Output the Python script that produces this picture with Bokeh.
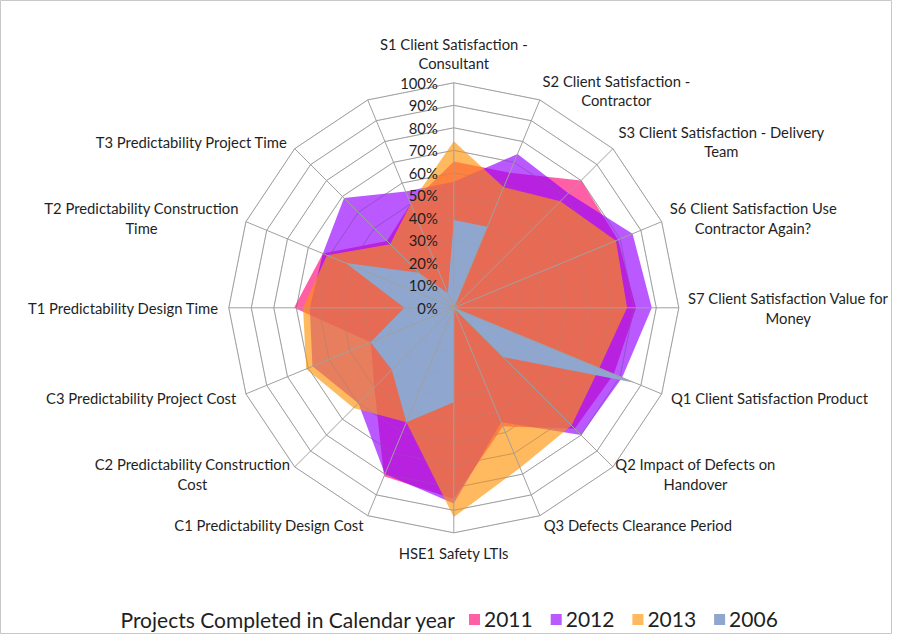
import math
from bokeh.plotting import figure
from bokeh.models import Range1d
from bokeh.embed import file_html
from bokeh.resources import INLINE
from bokeh.core.properties import value

# ---------------- data ----------------
categories = [
    "S1 Client Satisfaction -\nConsultant",
    "S2 Client Satisfaction -\nContractor",
    "S3 Client Satisfaction - Delivery\nTeam",
    "S6 Client Satisfaction Use\nContractor Again?",
    "S7 Client Satisfaction Value for\nMoney",
    "Q1 Client Satisfaction Product",
    "Q2 Impact of Defects on\nHandover",
    "Q3 Defects Clearance Period",
    "HSE1 Safety LTIs",
    "C1 Predictability Design Cost",
    "C2 Predictability Construction\nCost",
    "C3 Predictability Project Cost",
    "T1 Predictability Design Time",
    "T2 Predictability Construction\nTime",
    "T3 Predictability Project Time",
    "",
]
years = ["2011", "2012", "2013", "2006"]
v2011 = [65, 65, 80, 79, 81, 77, 76, 57, 85, 81, 50, 40, 71, 63, 42, 50]
v2012 = [56, 74, 72, 86, 88, 81, 80, 55, 87, 80, 60, 68, 64, 63, 69, 56]
v2013 = [74, 58, 67, 78, 77, 70, 74, 77, 93, 55, 63, 71, 67, 61, 40, 50]
v2006 = [39, 39, 0, 0, 0, 87, 31, 0, 42, 55, 39, 40, 22, 52, 22, 7]
tick_values = [0, 10, 20, 30, 40, 50, 60, 70, 80, 90, 100]
tick_labels = ["0%", "10%", "20%", "30%", "40%", "50%", "60%", "70%", "80%", "90%", "100%"]
legend_title = "Projects Completed in Calendar year"

# ---------------- styles ----------------
series_values = [v2011, v2012, v2013, v2006]
base_colors = ["#FF0975", "#9300FF", "#FF9309", "#8FA6CF"]
alphas = [0.65, 0.65, 0.65, 1.0]
grid_color = "#A0A0A0"
text_color = "#1F1F1F"
FONT = "Lato"
LABEL_FS = 14.8

W, H = 892, 634
CX, CY = 453.3, 307.3          # chart centre inside the canvas (from left / top)
R = 225.0                      # radius of 100 %
VMAX = 100.0

p = figure(width=W, height=H, output_backend="svg", toolbar_location=None,
           x_range=Range1d(-CX, W - CX), y_range=Range1d(CY - H, CY),
           min_border=0, background_fill_color="white", border_fill_color="white")
p.axis.visible = False
p.xgrid.visible = False
p.ygrid.visible = False
p.outline_line_color = "#C8C8C8"

n = len(categories)
angles = [2 * math.pi * k / n for k in range(n)]


def pt(v, a):
    r = v / VMAX * R
    return r * math.sin(a), r * math.cos(a)


# rings (underneath)
ring_xs, ring_ys = [], []
for tv in tick_values[1:]:
    xs = [pt(tv, a)[0] for a in angles] + [pt(tv, angles[0])[0]]
    ys = [pt(tv, a)[1] for a in angles] + [pt(tv, angles[0])[1]]
    ring_xs.append(xs)
    ring_ys.append(ys)
p.multi_line(ring_xs, ring_ys, line_color=grid_color, line_width=1)

# series
for vals, col, al in zip(series_values, base_colors, alphas):
    xs = [pt(v, a)[0] for v, a in zip(vals, angles)]
    ys = [pt(v, a)[1] for v, a in zip(vals, angles)]
    p.patch(xs, ys, fill_color=col, fill_alpha=al, line_color=None)

# rings faintly on top, spokes on top
p.multi_line(ring_xs, ring_ys, line_color=grid_color, line_width=1, line_alpha=0.25)
sp_xs = [[0, pt(VMAX, a)[0]] for a in angles]
sp_ys = [[0, pt(VMAX, a)[1]] for a in angles]
p.multi_line(sp_xs, sp_ys, line_color=grid_color, line_width=1)

# value tick labels along the first spoke
p.text(x=[-16] * len(tick_values), y=[tv / VMAX * R for tv in tick_values], text=tick_labels,
       text_font=value(FONT), text_font_size="14.8px", text_color=text_color,
       text_align="right", text_baseline="middle")


# category labels
def est_width(s, fs=LABEL_FS):
    w = 0.0
    for ch in s:
        if ch in "iljtf.,' -|I":
            w += 0.27
        elif ch in "r":
            w += 0.36
        elif ch in "s?":
            w += 0.43
        elif ch in "mwMW":
            w += 0.80
        elif ch.isdigit():
            w += 0.58
        elif ch.isupper():
            w += 0.64
        else:
            w += 0.52
    return w * fs


LH = 19.5
GAP = 10.0
lx, ly, lt, la = [], [], [], []
for name, a in zip(categories, angles):
    if not name:
        continue
    lines = name.split("\n")
    s, c = math.sin(a), math.cos(a)
    ax = R * s + GAP * s
    ay = R * c + GAP * c
    nl = len(lines)
    if c > 0.99:
        ys = [ay + (nl - 1 - i) * LH + LH / 2 for i in range(nl)]
    elif c < -0.99:
        ys = [ay - LH / 2 - i * LH for i in range(nl)]
    else:
        ys = [ay + (nl - 1) / 2 * LH - i * LH for i in range(nl)]
    bw = max(est_width(l) for l in lines)
    if s > 0.01:
        if nl == 1:
            xs_, al_ = [ax], "left"
        else:
            xs_, al_ = [ax + bw / 2] * nl, "center"
    elif s < -0.01:
        if nl == 1:
            xs_, al_ = [ax], "right"
        else:
            xs_, al_ = [ax - bw / 2] * nl, "center"
    else:
        xs_, al_ = [ax] * nl, "center"
    for l, xx, yy in zip(lines, xs_, ys):
        lx.append(xx)
        ly.append(yy)
        lt.append(l)
        la.append(al_)

for align in ["left", "right", "center"]:
    idx = [i for i, q in enumerate(la) if q == align]
    if idx:
        p.text(x=[lx[i] for i in idx], y=[ly[i] for i in idx], text=[lt[i] for i in idx],
               text_font=value(FONT), text_font_size=f"{LABEL_FS}px", text_color=text_color,
               text_align=align, text_baseline="middle")

# legend (title + swatches inline)
LEG_Y = -(619 - CY)
LEG_X0 = 120 - CX
p.text(x=[LEG_X0], y=[LEG_Y], text=[legend_title], text_font=value(FONT),
       text_font_size="21px", text_color=text_color, text_align="left", text_baseline="middle")
SW0 = 474 - CX
STEP = 81.7
for i, (yr, col, al) in enumerate(zip(years, base_colors, alphas)):
    sx = SW0 + i * STEP
    p.rect(x=[sx], y=[LEG_Y], width=11, height=11, fill_color=col, fill_alpha=al, line_color=None)
    p.text(x=[sx + 9.5], y=[LEG_Y], text=[yr], text_font=value(FONT), text_font_size="21px",
           text_color=text_color, text_align="left", text_baseline="middle")

open("out.html", "w").write(file_html(p, INLINE))
